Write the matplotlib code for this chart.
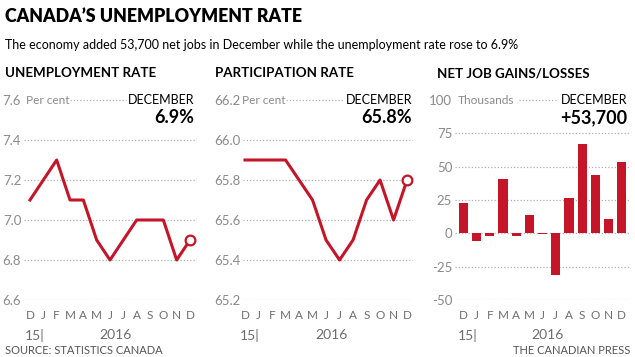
import matplotlib
matplotlib.use('Agg')
import matplotlib.pyplot as plt
import matplotlib.transforms as mtransforms
from matplotlib.lines import Line2D

# data
months = ['D', 'J', 'F', 'M', 'A', 'M', 'J', 'J', 'A', 'S', 'O', 'N', 'D']
unemployment = [7.1, 7.2, 7.3, 7.1, 7.1, 6.9, 6.8, 6.9, 7.0, 7.0, 7.0, 6.8, 6.9]
participation = [65.9, 65.9, 65.9, 65.9, 65.8, 65.7, 65.5, 65.4, 65.5, 65.7, 65.8, 65.6, 65.8]
net_jobs = [22.6, -5.7, -2.3, 40.6, -2.1, 13.8, -0.7, -31.2, 26.2, 67.2, 43.9, 10.7, 53.7]

unemp_ticks = [6.6, 6.8, 7.0, 7.2, 7.4, 7.6]
part_ticks = [65.2, 65.4, 65.6, 65.8, 66.0, 66.2]
jobs_ticks = [-50, -25, 0, 25, 50, 75, 100]

RED = '#c41628'
GRID = '#b0b0b0'
TICK = '#8a8a8a'
FONT = ['Lato', 'DejaVu Sans']

plt.rcParams['font.family'] = FONT

W, H = 635, 357
fig = plt.figure(figsize=(W / 100, H / 100), dpi=100)


def fx(px):
    return px / W


def fy(py):
    return 1 - py / H


def make_axes(left, right, top, bottom):
    return fig.add_axes([fx(left), fy(bottom), fx(right - left), (bottom - top) / H])


def style(ax, ticks, labels, top_gap):
    ax.set_ylim(ticks[0], ticks[-1])
    ax.set_yticks(ticks)
    ax.set_yticklabels(labels)
    ax.set_xticks(range(len(months)))
    ax.set_xticklabels(months)
    ax.tick_params(axis='y', length=0, pad=2, labelsize=9.5, labelcolor=TICK)
    ax.tick_params(axis='x', length=0, pad=7, labelsize=8.5, labelcolor='#6e6e6e')
    for s in ax.spines.values():
        s.set_visible(False)
    for t in ticks[:-1]:
        ax.axhline(t, color=GRID, lw=0.9, ls=(0, (1, 1.6)), zorder=0)
    # top gridline between the unit label and DECEMBER
    fig.add_artist(Line2D([fx(top_gap[0]), fx(top_gap[1])], [fy(100), fy(100)],
                          color=GRID, lw=0.9, ls=(0, (1, 1.6))))
    tr = mtransforms.blended_transform_factory(ax.transData, fig.transFigure)
    ax.text(-0.4, fy(335), '15|', transform=tr, ha='left', va='center',
            fontsize=10, color='#6e6e6e')
    ax.text(6.4, fy(335), '2016', transform=tr, ha='center', va='center',
            fontsize=10, color='#6e6e6e')


# titles
fig.text(fx(5), fy(17), 'CANADA\u2019S UNEMPLOYMENT RATE', fontsize=12.8, fontweight='heavy',
         va='center', ha='left')
fig.text(fx(5), fy(45), 'The economy added 53,700 net jobs in December while the unemployment rate rose to 6.9%',
         fontsize=9.0, va='center', ha='left')

# panel 1: unemployment rate
ax1 = make_axes(24, 197, 100, 300)
ax1.set_xlim(-0.45, 12.525)
ax1.plot(range(len(unemployment)), unemployment, color=RED, lw=2.2, zorder=3)
ax1.plot(len(unemployment) - 1, unemployment[-1], 'o', ms=7, mfc='white', mec=RED, mew=1.6, zorder=4)
style(ax1, unemp_ticks, ['%.1f' % t for t in unemp_ticks], (70, 126))

# panel 2: participation rate
ax2 = make_axes(243, 413, 100, 300)
ax2.set_xlim(-0.15, 12.44)
ax2.plot(range(len(participation)), participation, color=RED, lw=2.2, zorder=3)
ax2.plot(len(participation) - 1, participation[-1], 'o', ms=7, mfc='white', mec=RED, mew=1.6, zorder=4)
style(ax2, part_ticks, ['%.1f' % t for t in part_ticks], (286, 343))

# panel 3: net job gains/losses
ax3 = make_axes(455, 631, 100, 300)
ax3.set_xlim(-0.64, 12.7)
ax3.bar(range(len(net_jobs)), net_jobs, width=0.7, color=RED, zorder=3)
style(ax3, jobs_ticks, [str(t) for t in jobs_ticks], (519, 557))

# panel headings and callouts
heads = [(5, 'UNEMPLOYMENT RATE'), (215, 'PARTICIPATION RATE'), (437, 'NET JOB GAINS/LOSSES')]
for x, s in heads:
    fig.text(fx(x), fy(73), s, fontsize=9.6, fontweight='bold', va='center', ha='left')

units = [(26, 'Per cent'), (242, 'Per cent'), (458, 'Thousands')]
for x, s in units:
    fig.text(fx(x), fy(100), s, fontsize=8.6, color=TICK, va='center', ha='left')

callouts = [(194, '6.9%'), (412, '65.8%'), (627, '+53,700')]
for x, s in callouts:
    fig.text(fx(x), fy(100), 'DECEMBER', fontsize=9, va='center', ha='right')
    fig.text(fx(x), fy(118), s, fontsize=13, fontweight='bold', va='center', ha='right')

fig.text(fx(5), fy(356), 'SOURCE: STATISTICS CANADA', fontsize=8, color='#555555', va='bottom', ha='left')
fig.text(fx(630), fy(356), 'THE CANADIAN PRESS', fontsize=8, color='#555555', va='bottom', ha='right')

fig.savefig('out.png', dpi=100)
